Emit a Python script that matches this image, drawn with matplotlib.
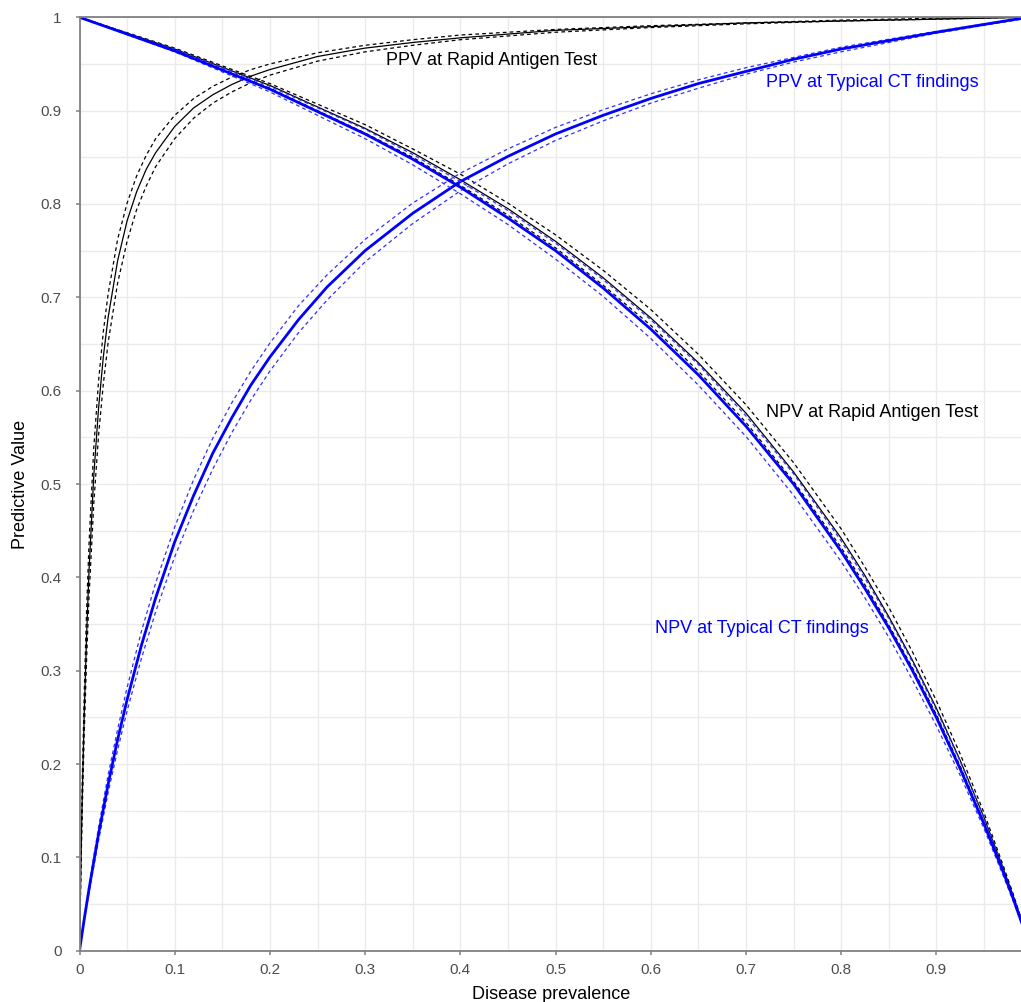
import matplotlib
matplotlib.use("Agg")
import matplotlib.pyplot as plt
from matplotlib.ticker import MultipleLocator

plt.rcParams['font.family'] = ['Liberation Sans', 'DejaVu Sans']

# ---- data ----
RAT_PPV_PREV = [0, 0.001, 0.002, 0.003, 0.005, 0.0075, 0.01, 0.015, 0.02, 0.025, 0.03, 0.04, 0.05,
                0.06, 0.07, 0.08, 0.1, 0.12, 0.14, 0.16, 0.18, 0.2, 0.25, 0.3, 0.35, 0.4, 0.5, 0.6,
                0.7, 0.8, 0.9, 0.99]
rat_ppv = [0.000, 0.064, 0.120, 0.170, 0.255, 0.339, 0.407, 0.509, 0.581, 0.636, 0.678, 0.739, 0.782,
           0.813, 0.837, 0.855, 0.883, 0.903, 0.917, 0.928, 0.937, 0.944, 0.958, 0.967, 0.973, 0.978,
           0.986, 0.990, 0.994, 0.996, 0.998, 1.000]
rat_ppv_lo = [0.000, 0.057, 0.108, 0.154, 0.233, 0.313, 0.379, 0.479, 0.552, 0.607, 0.651, 0.715, 0.760,
              0.794, 0.819, 0.840, 0.870, 0.892, 0.908, 0.920, 0.930, 0.938, 0.953, 0.963, 0.970, 0.976,
              0.984, 0.989, 0.993, 0.996, 0.998, 1.000]
rat_ppv_hi = [0.000, 0.071, 0.133, 0.187, 0.278, 0.367, 0.436, 0.539, 0.610, 0.663, 0.703, 0.762, 0.801,
              0.830, 0.852, 0.870, 0.895, 0.913, 0.926, 0.936, 0.944, 0.950, 0.962, 0.970, 0.976, 0.981,
              0.987, 0.991, 0.994, 0.997, 0.999, 1.000]

CT_PPV_PREV = [0, 0.005, 0.01, 0.02, 0.03, 0.04, 0.05, 0.065, 0.08, 0.1, 0.12, 0.14, 0.16, 0.18,
               0.2, 0.23, 0.26, 0.3, 0.35, 0.4, 0.45, 0.5, 0.55, 0.6, 0.65, 0.7, 0.75, 0.8, 0.9, 0.99]
ct_ppv = [0.000, 0.034, 0.066, 0.125, 0.178, 0.226, 0.269, 0.327, 0.378, 0.438, 0.488, 0.533, 0.571,
          0.606, 0.636, 0.676, 0.711, 0.750, 0.790, 0.824, 0.851, 0.875, 0.895, 0.913, 0.929, 0.942,
          0.955, 0.966, 0.984, 0.999]
ct_ppv_lo = [0.000, 0.032, 0.062, 0.118, 0.169, 0.215, 0.257, 0.313, 0.363, 0.422, 0.472, 0.516, 0.555,
             0.590, 0.621, 0.662, 0.697, 0.738, 0.779, 0.814, 0.843, 0.868, 0.889, 0.908, 0.924, 0.939,
             0.952, 0.963, 0.983, 0.998]
ct_ppv_hi = [0.000, 0.036, 0.070, 0.132, 0.188, 0.237, 0.282, 0.342, 0.394, 0.454, 0.505, 0.549, 0.587,
             0.621, 0.651, 0.691, 0.724, 0.762, 0.801, 0.833, 0.859, 0.882, 0.901, 0.918, 0.933, 0.946,
             0.957, 0.968, 0.985, 0.999]

NPV_PREV = [0, 0.1, 0.2, 0.3, 0.35, 0.4, 0.45, 0.5, 0.55, 0.6, 0.65, 0.7, 0.75, 0.8, 0.825,
            0.85, 0.875, 0.9, 0.925, 0.95, 0.97, 0.98, 0.99]
rat_npv = [1.000, 0.966, 0.927, 0.881, 0.855, 0.826, 0.795, 0.760, 0.721, 0.678, 0.630, 0.576, 0.513,
           0.442, 0.402, 0.358, 0.311, 0.260, 0.204, 0.143, 0.089, 0.061, 0.031]
rat_npv_lo = [1.000, 0.965, 0.924, 0.876, 0.850, 0.820, 0.788, 0.753, 0.713, 0.670, 0.621, 0.566, 0.503,
              0.432, 0.392, 0.349, 0.303, 0.253, 0.198, 0.138, 0.086, 0.058, 0.030]
rat_npv_hi = [1.000, 0.967, 0.929, 0.885, 0.859, 0.832, 0.801, 0.767, 0.729, 0.687, 0.639, 0.585, 0.523,
              0.452, 0.411, 0.368, 0.320, 0.268, 0.211, 0.148, 0.092, 0.063, 0.032]
ct_npv = [1.000, 0.964, 0.923, 0.875, 0.848, 0.818, 0.785, 0.750, 0.710, 0.666, 0.617, 0.562, 0.500,
          0.428, 0.388, 0.346, 0.300, 0.250, 0.195, 0.136, 0.085, 0.058, 0.029]
ct_npv_lo = [1.000, 0.963, 0.920, 0.870, 0.842, 0.811, 0.778, 0.741, 0.701, 0.656, 0.606, 0.551, 0.488,
             0.417, 0.378, 0.336, 0.290, 0.241, 0.188, 0.131, 0.081, 0.055, 0.028]
ct_npv_hi = [1.000, 0.966, 0.926, 0.880, 0.853, 0.824, 0.793, 0.758, 0.719, 0.676, 0.628, 0.573, 0.511,
             0.439, 0.399, 0.356, 0.309, 0.258, 0.203, 0.142, 0.088, 0.060, 0.031]

X_TICKS = [0, 0.1, 0.2, 0.3, 0.4, 0.5, 0.6, 0.7, 0.8, 0.9]
X_TICK_LABELS = ['0', '0.1', '0.2', '0.3', '0.4', '0.5', '0.6', '0.7', '0.8', '0.9']
Y_TICKS = [0, 0.1, 0.2, 0.3, 0.4, 0.5, 0.6, 0.7, 0.8, 0.9, 1]
Y_TICK_LABELS = ['0', '0.1', '0.2', '0.3', '0.4', '0.5', '0.6', '0.7', '0.8', '0.9', '1']

# ---- figure ----
fig = plt.figure(figsize=(10.21, 10.02), dpi=100)
ax = fig.add_axes([79.5/1021, 51.3/1002, 942.5/1021, 933.4/1002])
ax.xaxis.set_minor_locator(MultipleLocator(0.05))
ax.yaxis.set_minor_locator(MultipleLocator(0.05))
ax.grid(which='both', color='#EBEBEB', lw=1.0, zorder=0)
ax.set_axisbelow(True)

DASH = (3, 2.5)
series = [
    ('black', 'black', 0.9, RAT_PPV_PREV, rat_ppv, rat_ppv_lo, rat_ppv_hi),
    ('black', 'black', 0.9, NPV_PREV, rat_npv, rat_npv_lo, rat_npv_hi),
    ('blue', '#3030ff', 2.0, CT_PPV_PREV, ct_ppv, ct_ppv_lo, ct_ppv_hi),
    ('blue', '#3030ff', 2.0, NPV_PREV, ct_npv, ct_npv_lo, ct_npv_hi),
]
for c, dc, lw, xs, mid, lo, hi in series:
    ax.plot(xs, lo, color=dc, lw=0.9, dashes=DASH)
    ax.plot(xs, hi, color=dc, lw=0.9, dashes=DASH)
    ax.plot(xs, mid, color=c, lw=lw)

ax.set_xlim(0, 0.99)
ax.set_ylim(0, 1)
ax.set_xticks(X_TICKS)
ax.set_xticklabels(X_TICK_LABELS)
ax.set_yticks(Y_TICKS)
ax.set_yticklabels(Y_TICK_LABELS)
for s in ['left', 'bottom', 'top']:
    ax.spines[s].set_color('#808080')
    ax.spines[s].set_linewidth(1.3)
ax.spines['right'].set_visible(False)
ax.tick_params(which='major', length=3, width=1.1, color='#808080', labelcolor='#4D4D4D', labelsize=11)
ax.tick_params(axis='x', pad=6)
ax.tick_params(axis='y', pad=10)
ax.tick_params(which='minor', length=0)
ax.set_xlabel('Disease prevalence', fontsize=13, color='black', labelpad=6)
ax.set_ylabel('Predictive Value', fontsize=13, color='black', labelpad=8)

ax.text(0.433, 0.954, 'PPV at Rapid Antigen Test', fontsize=13, color='black', ha='center', va='center')
ax.text(0.833, 0.930, 'PPV at Typical CT findings', fontsize=13, color='blue', ha='center', va='center')
ax.text(0.833, 0.577, 'NPV at Rapid Antigen Test', fontsize=13, color='black', ha='center', va='center')
ax.text(0.717, 0.345, 'NPV at Typical CT findings', fontsize=13, color='blue', ha='center', va='center')

fig.savefig('out.png', dpi=100, facecolor='white')
